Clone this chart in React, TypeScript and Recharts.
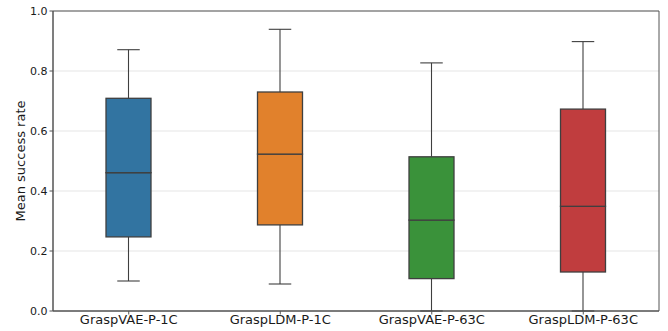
import React from 'react';
import { ComposedChart, Bar, XAxis, YAxis, CartesianGrid, ReferenceArea } from 'recharts';

const categories = ['GraspVAE-P-1C', 'GraspLDM-P-1C', 'GraspVAE-P-63C', 'GraspLDM-P-63C'];
const whiskerLow = [0.1, 0.09, 0.0, 0.0];
const q1 = [0.247, 0.287, 0.108, 0.13];
const median = [0.461, 0.523, 0.303, 0.349];
const q3 = [0.709, 0.73, 0.514, 0.673];
const whiskerHigh = [0.871, 0.939, 0.827, 0.898];
const yTicks = [0, 0.2, 0.4, 0.6, 0.8, 1.0];

const colors = ['#3274a1', '#e1812c', '#3a923a', '#c03d3e'];
const lineColor = '#3f3f3f';
const font = 'DejaVu Sans';

// stacked segments: base (hidden), lower whisker, lower box, upper box, upper whisker
const data = categories.map((name, i) => ({
  name,
  color: colors[i],
  base: whiskerLow[i],
  lowWhisker: q1[i] - whiskerLow[i],
  lowBox: median[i] - q1[i],
  highBox: q3[i] - median[i],
  highWhisker: whiskerHigh[i] - q3[i],
}));

const Empty = () => <g />;

const LowWhisker = (props: any) => {
  const { x, y, width, height } = props;
  const cx = x + width / 2;
  const bottom = y + height;
  return (
    <g>
      <line x1={cx} x2={cx} y1={y} y2={bottom} stroke={lineColor} strokeWidth={1.1} />
      <line x1={cx - width / 4} x2={cx + width / 4} y1={bottom} y2={bottom} stroke={lineColor} strokeWidth={1.1} />
    </g>
  );
};

const HighWhisker = (props: any) => {
  const { x, y, width, height } = props;
  const cx = x + width / 2;
  return (
    <g>
      <line x1={cx} x2={cx} y1={y} y2={y + height} stroke={lineColor} strokeWidth={1.1} />
      <line x1={cx - width / 4} x2={cx + width / 4} y1={y} y2={y} stroke={lineColor} strokeWidth={1.1} />
    </g>
  );
};

const BoxPart = (props: any) => {
  const { x, y, width, height, payload } = props;
  return (
    <rect x={x} y={y} width={width} height={height} fill={payload.color} stroke={lineColor} strokeWidth={1.3} />
  );
};

const YLabel = (props: any) => {
  const vb = props.viewBox;
  const cy = vb.y + vb.height / 2;
  return (
    <text
      x={20}
      y={cy}
      transform={`rotate(-90, 20, ${cy})`}
      textAnchor="middle"
      dominantBaseline="central"
      fontFamily={font}
      fontSize={13}
      fill="#1a1a1a"
    >
      Mean success rate
    </text>
  );
};

export default function App() {
  return (
    <div style={{ position: 'absolute', left: 0, top: 0, background: '#fff' }}>
      <ComposedChart
        width={668}
        height={331}
        data={data}
        margin={{ top: 11, right: 9, bottom: 0, left: 0 }}
      >
        <CartesianGrid vertical={false} stroke="#e5e5e5" strokeWidth={1} />
        <XAxis
          dataKey="name"
          height={20}
          interval={0}
          stroke="#555"
          tickSize={3.5}
          tickMargin={0}
          tick={{ fontFamily: font, fontSize: 13, fill: '#1a1a1a' }}
        />
        <YAxis
          domain={[0, 1]}
          ticks={yTicks}
          width={53}
          stroke="#555"
          tickSize={3.5}
          tickMargin={2}
          tickFormatter={(v: number) => v.toFixed(1)}
          tick={{ fontFamily: font, fontSize: 11, fill: '#1a1a1a' }}
          label={{ content: YLabel }}
        />
        <Bar dataKey="base" stackId="box" barSize={45} shape={Empty} isAnimationActive={false} />
        <Bar dataKey="lowWhisker" stackId="box" barSize={45} shape={LowWhisker} isAnimationActive={false} />
        <Bar dataKey="lowBox" stackId="box" barSize={45} shape={BoxPart} isAnimationActive={false} />
        <Bar dataKey="highBox" stackId="box" barSize={45} shape={BoxPart} isAnimationActive={false} />
        <Bar dataKey="highWhisker" stackId="box" barSize={45} shape={HighWhisker} isAnimationActive={false} />
        <ReferenceArea y1={0} y2={1} fill="none" fillOpacity={0} stroke="#555" strokeWidth={1} ifOverflow="visible" />
      </ComposedChart>
    </div>
  );
}
